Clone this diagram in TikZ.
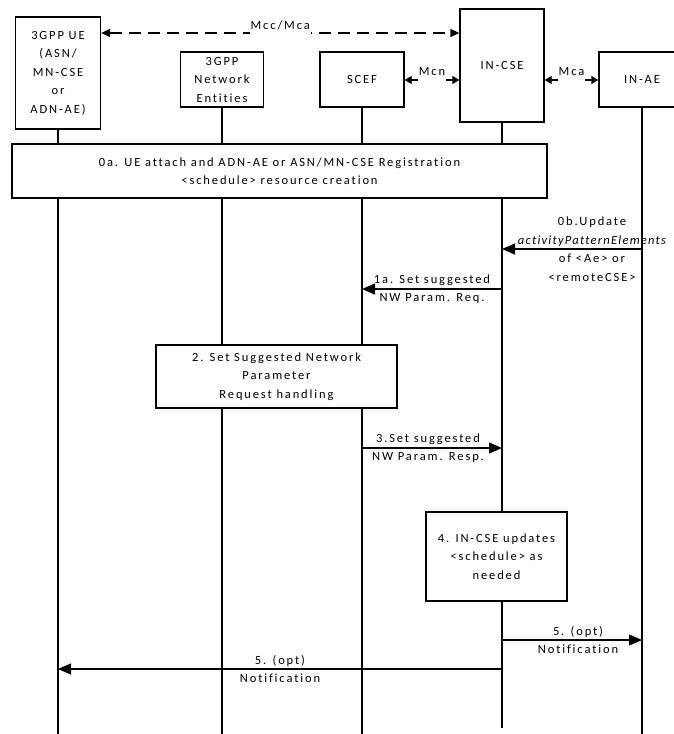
\documentclass[tikz,border=0pt]{standalone}
\usepackage{fontspec}
\setmainfont{Carlito}[LetterSpace=15, Ligatures=CommonOff]
\usepackage{tikz}
\usetikzlibrary{arrows.meta}
\usetikzlibrary{positioning}

\begin{document}
\begin{tikzpicture}[x=1pt, y=-1pt, font=\fontsize{12.5}{18.5}\selectfont,
    ent/.style={draw, line width=1.3pt, fill=white, align=center, inner sep=0pt},
    life/.style={line width=1.3pt},
    msg/.style={line width=1.3pt, -{Triangle[length=13pt,width=11pt]}},
    ifc/.style={line width=1.3pt, {Triangle[length=7pt,width=8pt]}-{Triangle[length=7pt,width=8pt]}},
    ifclbl/.style={fill=white, inner xsep=1pt, inner ysep=5pt, text depth=4pt, yshift=7pt},
    lbl/.style={align=center, inner sep=1pt}]
    \useasboundingbox (0,0) rectangle (674,734);
    % entities
    \node[ent, minimum width=85pt, minimum height=112pt] at (58,73) (ue) {3GPP UE\\(ASN/\\MN-CSE\\or\\ADN-AE)};
    \node[ent, minimum width=83pt, minimum height=55pt] at (222,79.5) (ne) {3GPP\\Network\\Entities};
    \node[ent, minimum width=84pt, minimum height=55pt] at (362,79.5) (scef) {SCEF};
    \node[ent, minimum width=84pt, minimum height=113pt] at (502,65.5) (incse) {IN-CSE};
    \node[ent, minimum width=86pt, minimum height=55pt] at (642,79.5) (inae) {IN-AE};
    % reference points
    \coordinate (rmcc) at (0,33);
    \coordinate (rif) at (0,80);
    \coordinate (bot) at (0,734);
    \coordinate (botcse) at (0,728);
    % interfaces
    \draw[line width=1.3pt, {Triangle[length=9pt,width=8pt]}-{Triangle[length=9pt,width=8pt]}, dash pattern=on 12pt off 7pt]
        (ue.east |- rmcc) -- node[ifclbl, yshift=-1pt] {Mcc/Mca} (incse.west |- rmcc);
    \draw[ifc] (scef.east |- rif) -- node[ifclbl] {Mcn} (incse.west |- rif);
    \draw[ifc] (incse.east |- rif) -- node[ifclbl] {Mca} (inae.west |- rif);
    % lifelines
    \foreach \e in {ue,ne,scef,inae}
        \draw[life] (\e.south) -- (\e |- bot);
    \draw[life] (incse.south) -- (incse |- botcse);
    % procedure boxes
    \node[ent, minimum width=535pt, minimum height=54pt] at (279.5,171) (reg) {0a. UE attach and ADN-AE or ASN/MN-CSE Registration\\<schedule> resource creation};
    \node[ent, minimum width=241pt, minimum height=63pt] at (276.5,376.5) (hdl) {2. Set Suggested Network\\Parameter\\Request handling};
    \node[ent, minimum width=141pt, minimum height=89pt] at (496.5,556.5) (upd) {4. IN-CSE updates\\<schedule> as\\needed};
    % messages
    \coordinate (r0b) at (0,249);
    \coordinate (r1a) at (0,289);
    \coordinate (r3) at (0,448);
    \coordinate (r5a) at (0,640);
    \coordinate (r5b) at (0,669);
    \draw[msg] (inae |- r0b) -- node[lbl, xshift=20pt] {0b.Update\\{\itshape\addfontfeature{LetterSpace=10}activityPatternElements}\\of <Ae> or\\<remoteCSE>} (incse |- r0b);
    \draw[msg] (incse |- r1a) -- node[lbl] {1a. Set suggested\\NW Param. Req.} (scef |- r1a);
    \draw[msg] (scef |- r3) -- node[lbl, xshift=-4pt] {3.Set suggested\\NW Param. Resp.} (incse |- r3);
    \draw[msg] (incse |- r5a) -- node[lbl, xshift=6pt] {5. (opt)\\Notification} (inae |- r5a);
    \draw[msg] (incse |- r5b) -- node[lbl] {5. (opt)\\Notification} (ue |- r5b);
\end{tikzpicture}
\end{document}
